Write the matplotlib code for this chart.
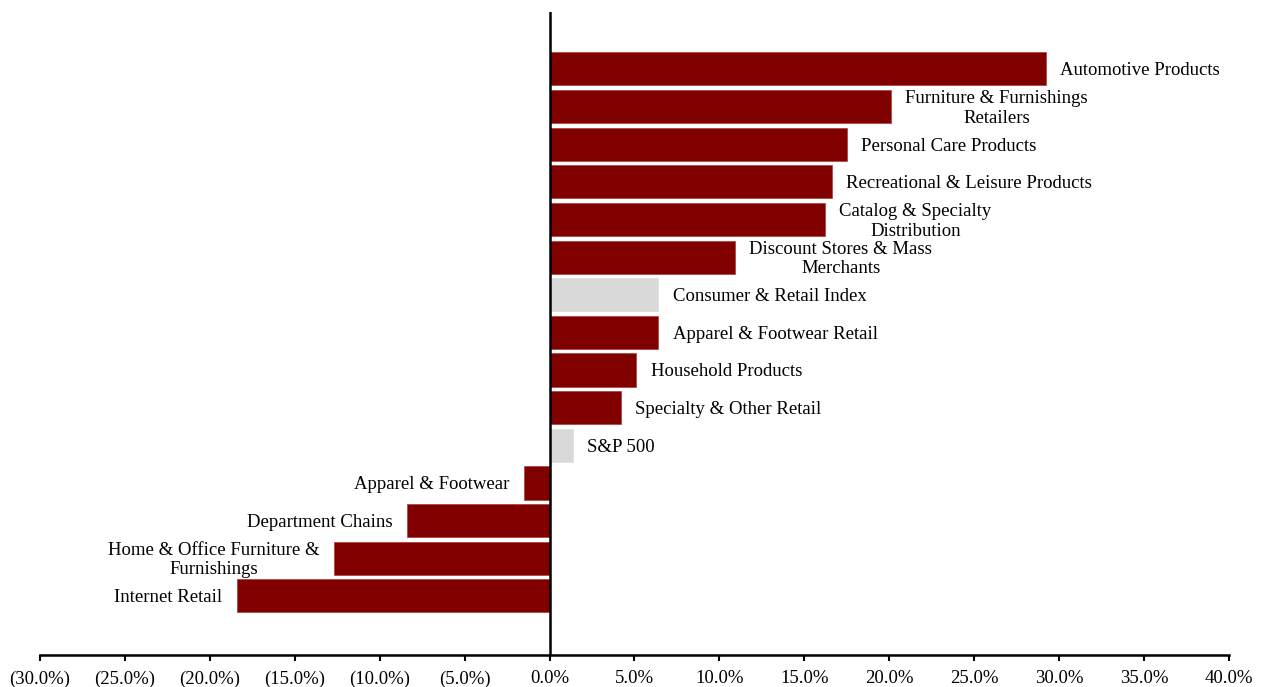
import matplotlib
matplotlib.use("Agg")
import matplotlib.pyplot as plt
from matplotlib.ticker import FuncFormatter

categories = [
    "Automotive Products",
    "Furniture & Furnishings\nRetailers",
    "Personal Care Products",
    "Recreational & Leisure Products",
    "Catalog & Specialty\nDistribution",
    "Discount Stores & Mass\nMerchants",
    "Consumer & Retail Index",
    "Apparel & Footwear Retail",
    "Household Products",
    "Specialty & Other Retail",
    "S&P 500",
    "Apparel & Footwear",
    "Department Chains",
    "Home & Office Furniture &\nFurnishings",
    "Internet Retail",
]
values = [29.2, 20.1, 17.5, 16.6, 16.2, 10.9, 6.4, 6.4, 5.1, 4.2, 1.35, -1.5, -8.4, -12.7, -18.4]
is_benchmark = [False, False, False, False, False, False, True, False, False, False, True,
                False, False, False, False]
xticks = [-30, -25, -20, -15, -10, -5, 0, 5, 10, 15, 20, 25, 30, 35, 40]

RED = "#800000"
GREY = "#d9d9d9"

plt.rcParams['font.family'] = ['Liberation Serif', 'DejaVu Serif']

fig = plt.figure(figsize=(12.66, 6.87), dpi=100)
ax = fig.add_axes([40/1266, 1-655/687, (1229-40)/1266, (655-12)/687])

ypos = list(range(len(values)))
colors = [GREY if b else RED for b in is_benchmark]
ax.barh(ypos, values, height=0.88, color=colors,
        edgecolor=["#e0e0e0" if b else "#b04848" for b in is_benchmark],
        linewidth=0.6, zorder=2)

for y, v, lab in zip(ypos, values, categories):
    if v >= 0:
        ax.text(v + 0.85, y + 0.05, lab, ha='left', va='center', multialignment='center',
                fontsize=13.5, linespacing=1.2)
    else:
        ax.text(v - 0.85, y + 0.05, lab, ha='right', va='center', multialignment='center',
                fontsize=13.5, linespacing=1.2)

ax.set_xlim(-30, 40)
ax.set_ylim(15.57, -1.51)
ax.axvline(0, color='black', linewidth=1.8, zorder=3)

for s in ['top', 'right', 'left']:
    ax.spines[s].set_visible(False)
ax.spines['bottom'].set_linewidth(1.8)
ax.spines['bottom'].set_color('black')
ax.set_yticks([])
ax.set_xticks(xticks)

def fmt(x, pos):
    if x < 0:
        return "({:.1f}%)".format(-x)
    return "{:.1f}%".format(x)

ax.xaxis.set_major_formatter(FuncFormatter(fmt))
ax.tick_params(axis='x', direction='out', length=4, width=1.5, labelsize=13.5, pad=7)

fig.savefig("out.png", dpi=100)
